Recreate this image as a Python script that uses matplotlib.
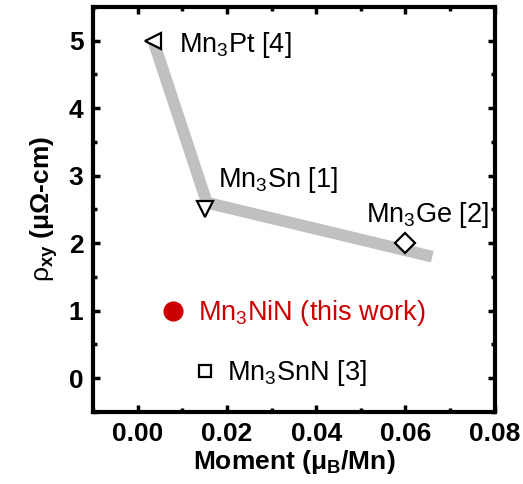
import numpy as np
import matplotlib
matplotlib.use("Agg")
import matplotlib.pyplot as plt
from matplotlib.ticker import MultipleLocator

plt.rcParams['font.family'] = ['Liberation Sans', 'DejaVu Sans']
plt.rcParams['mathtext.fontset'] = 'custom'
plt.rcParams['mathtext.rm'] = 'Liberation Sans'
plt.rcParams['mathtext.it'] = 'Liberation Sans'
plt.rcParams['mathtext.bf'] = 'Liberation Sans:bold'

# data
names = ["Mn$_3$Pt [4]", "Mn$_3$Sn [1]", "Mn$_3$Ge [2]", "Mn$_3$SnN [3]"]
moment = [0.0035, 0.015, 0.060, 0.015]
rho = [5.0, 2.5, 2.0, 0.1]
markers = ["<", "v", "D", "s"]

this_name = "Mn$_3$NiN (this work)"
this_moment = 0.008
this_rho = 1.0

# gray guide line
guide_x = [0.0035, 0.0155, 0.066]
guide_y = [5.0, 2.6, 1.8]

# label anchors (left, baseline)
label_x = [0.0092, 0.018, 0.0511, 0.020]
label_y = [4.84, 2.84, 2.32, -0.03]

fig = plt.figure(figsize=(5.23, 4.84), dpi=100)
ax = fig.add_axes([0.178, 0.149, 0.768, 0.8365])

ax.plot(guide_x, guide_y, color='#c0c0c0', lw=8.5, solid_capstyle='butt',
        solid_joinstyle='miter', zorder=1)

msize = {"<": 12, "v": 12, "D": 10, "s": 8}
for k in range(len(names)):
    ax.plot(moment[k], rho[k], ls='none', marker=markers[k], ms=msize[markers[k]],
            mfc='white', mec='black', mew=1.6, zorder=3)
    ax.text(label_x[k], label_y[k], names[k], fontsize=19.5, va='baseline',
            ha='left', color='black')

ax.plot(this_moment, this_rho, ls='none', marker='o', ms=13.5, color='#cc0000', zorder=3)
ax.text(0.0134, 0.86, this_name, fontsize=19.5, va='baseline', ha='left',
        color='#cc0000')

ax.set_xlim(-0.01, 0.08)
ax.set_ylim(-0.5, 5.5)
ax.xaxis.set_major_locator(MultipleLocator(0.02))
ax.xaxis.set_minor_locator(MultipleLocator(0.01))
ax.yaxis.set_major_locator(MultipleLocator(1))
ax.yaxis.set_minor_locator(MultipleLocator(0.5))
ax.set_xticks([0.0, 0.02, 0.04, 0.06, 0.08])
ax.set_xticklabels(["0.00", "0.02", "0.04", "0.06", "0.08"])

for sp in ax.spines.values():
    sp.set_linewidth(3)
ax.tick_params(which='both', direction='in', top=True, right=True, width=2.5)
ax.tick_params(which='major', length=5, labelsize=19, pad=7)
ax.tick_params(which='minor', length=3)
for lab in ax.get_xticklabels() + ax.get_yticklabels():
    lab.set_fontweight('bold')

ax.set_xlabel(r"Moment ($\mathbf{\mu_B}$/Mn)", fontsize=19, fontweight='bold', labelpad=2)
ax.set_ylabel(r"$\rho_{\mathbf{xy}}$ ($\mathbf{\mu\Omega}$-cm)", fontsize=19,
              fontweight='bold', labelpad=6)

fig.savefig("out.png", dpi=100)
